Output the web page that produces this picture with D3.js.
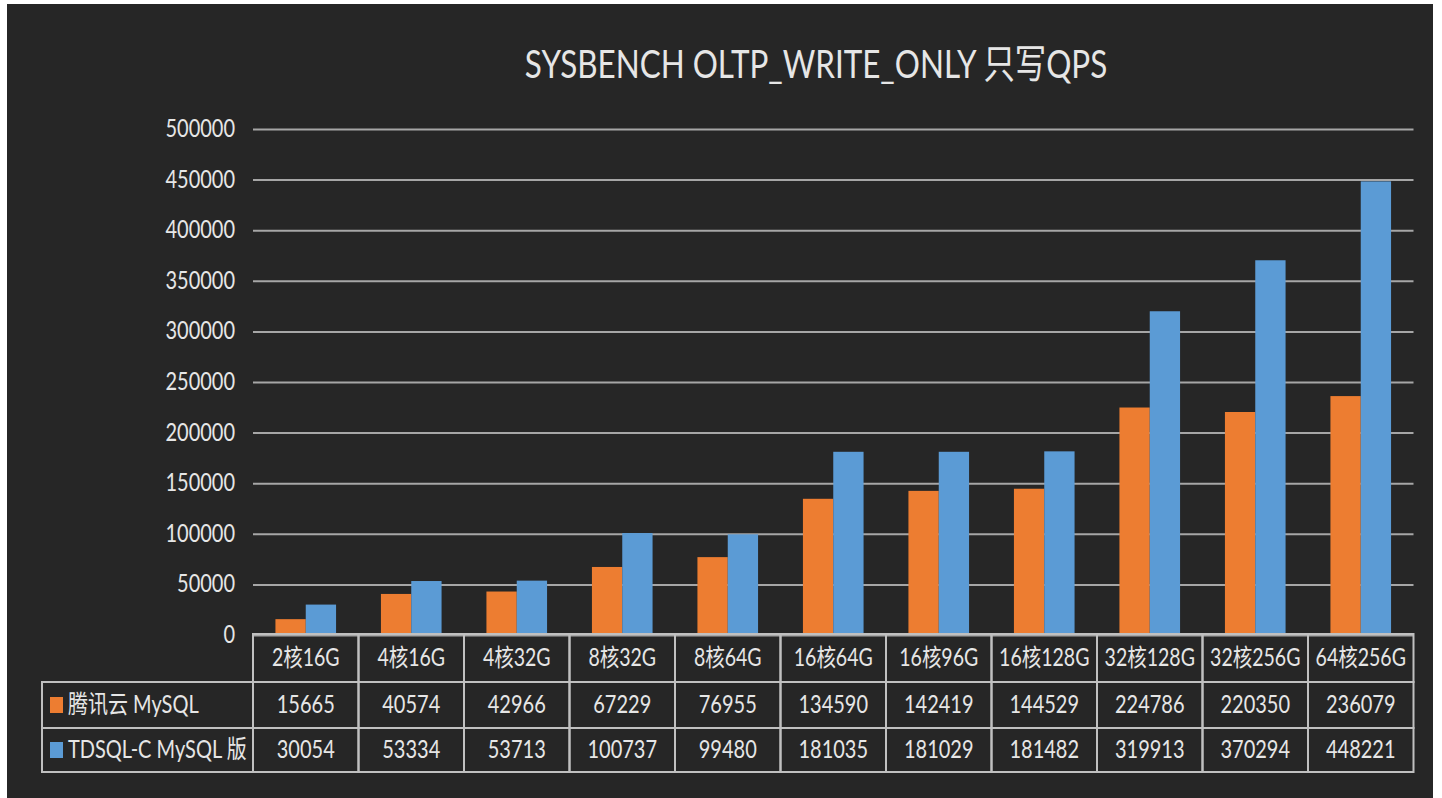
<!DOCTYPE html>
<html>
<head>
<meta charset="utf-8">
<script src="https://cdn.jsdelivr.net/npm/d3@7"></script>
<style>
  body { margin: 0; background: #ffffff; }
  text { font-family: Lato, "Noto Sans CJK SC", sans-serif; fill: #e6e6e6; }
</style>
</head>
<body>
<div id="chart"></div>
<script>
// data
var categories = ["2核16G", "4核16G", "4核32G", "8核32G", "8核64G", "16核64G", "16核96G", "16核128G", "32核128G", "32核256G", "64核256G"];
var tencentValues = [15665, 40574, 42966, 67229, 76955, 134590, 142419, 144529, 224786, 220350, 236079];
var tdsqlValues = [30054, 53334, 53713, 100737, 99480, 181035, 181029, 181482, 319913, 370294, 448221];
var seriesNames = ["腾讯云 MySQL", "TDSQL-C MySQL 版"];
var seriesColors = ["#ed7d31", "#5b9bd5"];
var yTicks = [0, 50000, 100000, 150000, 200000, 250000, 300000, 350000, 400000, 450000, 500000];
var title = "SYSBENCH OLTP_WRITE_ONLY 只写QPS";

var W = 1442, H = 798;
var SY = 1.25; // text in the source is stretched vertically
var margin = {top: 129, left: 253, right: 28.5, bottom: 163};

var svg = d3.select("#chart").append("svg")
    .attr("width", W)
    .attr("height", H);

// dark panel
svg.append("rect")
    .attr("x", 7).attr("y", 4)
    .attr("width", 1426).attr("height", H - 4)
    .attr("fill", "#262626");

var plotW = W - margin.left - margin.right,
    plotH = H - margin.top - margin.bottom;

var x = d3.scaleBand()
    .domain(categories)
    .range([margin.left, margin.left + plotW]);

var xInner = d3.scaleBand()
    .domain([0, 1])
    .range([0, x.bandwidth()])
    .paddingOuter(0.74);

var y = d3.scaleLinear()
    .domain([0, 500000])
    .range([margin.top + plotH, margin.top]);

// gridlines + y labels
var yAxis = d3.axisLeft(y)
    .tickValues(yTicks)
    .tickSize(-plotW)
    .tickPadding(18)
    .tickFormat(d3.format("d"));

var gy = svg.append("g")
    .attr("transform", "translate(" + margin.left + ",0)")
    .call(yAxis);
gy.select(".domain").remove();
gy.selectAll(".tick line")
    .attr("stroke", "#a6a6a6")
    .attr("stroke-width", 2);
gy.selectAll(".tick text")
    .attr("fill", "#e6e6e6")
    .attr("dy", "0.3em")
    .attr("transform", "scale(1," + SY + ")")
    .style("font-size", "20px")
    .style("font-family", "Lato, sans-serif");

// bars
var series = [tencentValues, tdsqlValues];
series.forEach(function(vals, si) {
    svg.append("g").selectAll("rect")
        .data(vals)
        .enter()
        .append("rect")
        .attr("x", function(d, i) { return x(categories[i]) + xInner(si); })
        .attr("y", function(d) { return y(d); })
        .attr("width", xInner.bandwidth())
        .attr("height", function(d) { return y(0) - y(d); })
        .attr("fill", seriesColors[si]);
});

// title
svg.append("text")
    .attr("transform", "translate(816,78) scale(1," + SY + ")")
    .attr("text-anchor", "middle")
    .style("font-size", "31.4px")
    .text(title);

// data table under the plot
var rowTops = [634, 682, 728, 772];
var tableColor = "#c0c0c0";
var legendLeft = 42;
var tbl = svg.append("g");

// header row
tbl.selectAll(".hcell")
    .data(categories)
    .enter()
    .append("rect")
    .attr("x", function(d) { return x(d); })
    .attr("y", rowTops[0])
    .attr("width", x.bandwidth())
    .attr("height", rowTops[1] - rowTops[0])
    .attr("fill", "none")
    .attr("stroke", tableColor)
    .attr("stroke-width", 2);

tbl.selectAll(".htext")
    .data(categories)
    .enter()
    .append("text")
    .attr("text-anchor", "middle")
    .attr("transform", function(d) {
        return "translate(" + (x(d) + x.bandwidth() / 2) + "," + ((rowTops[0] + rowTops[1]) / 2 + 8) + ") scale(1," + SY + ")";
    })
    .style("font-size", "19.5px")
    .text(function(d) { return d; });

// value rows with legend cell
series.forEach(function(vals, si) {
    var top = rowTops[si + 1], bot = rowTops[si + 2], mid = (top + bot) / 2;
    var row = tbl.append("g");

    row.append("rect")
        .attr("x", legendLeft).attr("y", top)
        .attr("width", margin.left - legendLeft).attr("height", bot - top)
        .attr("fill", "none")
        .attr("stroke", tableColor)
        .attr("stroke-width", 2);

    row.append("rect")
        .attr("x", 50).attr("y", mid - 8)
        .attr("width", 13).attr("height", 16)
        .attr("fill", seriesColors[si]);

    row.append("text")
        .attr("transform", "translate(68," + (mid + 8) + ") scale(1," + SY + ")")
        .style("font-size", "20px")
        .text(seriesNames[si]);

    row.selectAll(".vcell")
        .data(vals)
        .enter()
        .append("rect")
        .attr("x", function(d, i) { return x(categories[i]); })
        .attr("y", top)
        .attr("width", x.bandwidth())
        .attr("height", bot - top)
        .attr("fill", "none")
        .attr("stroke", tableColor)
        .attr("stroke-width", 2);

    row.selectAll(".vtext")
        .data(vals)
        .enter()
        .append("text")
        .attr("text-anchor", "middle")
        .attr("transform", function(d, i) {
            return "translate(" + (x(categories[i]) + x.bandwidth() / 2) + "," + (mid + 8) + ") scale(1," + SY + ")";
        })
        .style("font-size", "20px")
        .text(function(d) { return d; });
});
</script>
</body>
</html>
